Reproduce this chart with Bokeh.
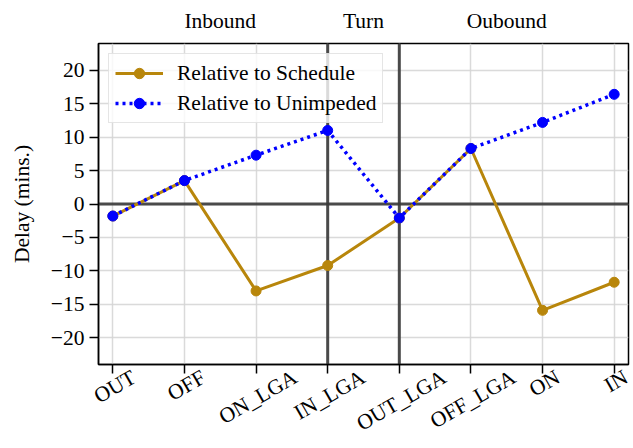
import math
from bokeh.plotting import figure
from bokeh.models import (Range1d, FixedTicker, LinearAxis, Span, Legend, Grid)
from bokeh.embed import file_html
from bokeh.resources import INLINE

categories = ["OUT", "OFF", "ON_LGA", "IN_LGA", "OUT_LGA", "OFF_LGA", "ON", "IN"]
rel_schedule = [-1.8, 3.5, -13.0, -9.2, -2.1, 8.3, -15.9, -11.7]
rel_unimpeded = [-1.8, 3.5, 7.3, 11.0, -2.1, 8.3, 12.2, 16.4]
phase_labels = ["Inbound", "Turn", "Oubound"]
phase_positions = [1.5, 3.5, 5.5]
phase_dividers = ["IN_LGA", "OUT_LGA"]
y_ticks = [-20, -15, -10, -5, 0, 5, 10, 15, 20]
y_label = "Delay (mins.)"
series_names = ["Relative to Schedule", "Relative to Unimpeded"]

FONT = "Liberation Serif"
FSPX = 21.5
FS = f"{FSPX}px"
ANGLE = math.pi / 6
W, H = 633, 448
B_LEFT, B_RIGHT, B_TOP, B_BOTTOM = 98, 5, 43, 80

x = list(range(len(categories)))
y_lo, y_hi = -24, 24
x_lo, x_hi = -0.2, len(categories) - 1 + 0.2

p = figure(width=W, height=H, output_backend="svg", toolbar_location=None,
           x_range=Range1d(x_lo, x_hi), y_range=Range1d(y_lo, y_hi),
           x_axis_type=None, y_axis_type=None,
           min_border_left=B_LEFT, min_border_top=B_TOP,
           min_border_bottom=B_BOTTOM, min_border_right=B_RIGHT)

p.outline_line_color = "black"
p.outline_line_width = 1.5


def style_axis(ax):
    ax.major_label_text_font = FONT
    ax.major_label_text_font_size = FS
    ax.major_label_text_color = "black"
    ax.axis_label_text_font = FONT
    ax.axis_label_text_font_size = FS
    ax.axis_label_text_font_style = "normal"
    ax.axis_label_text_color = "black"
    ax.axis_line_color = "black"
    ax.axis_line_width = 1.5
    ax.major_tick_line_color = "black"
    ax.major_tick_line_width = 1.5
    ax.major_tick_out = 9
    ax.major_tick_in = 0
    ax.minor_tick_line_color = None


# bottom axis: ticks only
xa = LinearAxis(ticker=FixedTicker(ticks=x), major_label_overrides={i: "" for i in x})
style_axis(xa)
xa.major_label_text_font_size = "0px"
xa.major_label_standoff = 0
p.add_layout(xa, "below")

# bottom axis 2: rotated category names, centred under each tick (matplotlib ha='center')
W_EM = {"O": .722, "U": .722, "T": .611, "F": .556, "N": .722, "_": .5,
        "L": .611, "G": .722, "A": .722, "I": .333}
px_per_unit = (W - B_LEFT - B_RIGHT) / (x_hi - x_lo)
label_pos = []
for xi, c in zip(x, categories):
    wpx = sum(W_EM.get(ch, .6) for ch in c) * FSPX
    label_pos.append(xi + (wpx * math.cos(ANGLE) / 2 + 2) / px_per_unit)
xl = LinearAxis(ticker=FixedTicker(ticks=label_pos),
                major_label_overrides={pos: c for pos, c in zip(label_pos, categories)})
style_axis(xl)
xl.axis_line_color = None
xl.major_tick_line_color = None
xl.major_tick_out = 0
xl.major_label_standoff = 2
xl.major_label_orientation = ANGLE
xl.major_label_text_line_height = 1.0
p.add_layout(xl, "below")

ya = LinearAxis(ticker=FixedTicker(ticks=y_ticks),
                major_label_overrides={t: (("\u2212" + str(-t)) if t < 0 else str(t)) for t in y_ticks},
                axis_label=y_label, axis_label_standoff=14)
style_axis(ya)
p.add_layout(ya, "left")

top = LinearAxis(ticker=FixedTicker(ticks=phase_positions),
                 major_label_overrides={pos: lab for pos, lab in zip(phase_positions, phase_labels)})
style_axis(top)
top.axis_line_color = None
top.major_tick_line_color = None
top.major_tick_out = 0
top.major_label_standoff = 11
p.add_layout(top, "above")

# grid
for dim, ticks in ((0, x), (1, y_ticks)):
    p.add_layout(Grid(dimension=dim, ticker=FixedTicker(ticks=ticks),
                      grid_line_color="#d4d4d4", grid_line_width=1.5, grid_line_alpha=0.85))

# reference lines
p.add_layout(Span(location=0, dimension="width", line_color="#383838", line_width=3,
                  line_alpha=0.9, level="underlay"))
for d in phase_dividers:
    p.add_layout(Span(location=categories.index(d), dimension="height", line_color="#383838",
                      line_width=3, line_alpha=0.9, level="underlay"))

gold = "#B8860B"
blue = "#0000FF"
r1 = p.line(x, rel_schedule, line_color=gold, line_width=3)
r2 = p.scatter(x, rel_schedule, marker="circle", size=10, fill_color=gold, line_color=gold)
r3 = p.line(x, rel_unimpeded, line_color=blue, line_width=3.5, line_dash="3 4")
r4 = p.scatter(x, rel_unimpeded, marker="circle", size=10, fill_color=blue, line_color=blue)

legend = Legend(items=[(series_names[0], [r1, r2]), (series_names[1], [r3, r4])],
                location="top_left")
legend.label_text_font = FONT
legend.label_text_font_size = FS
legend.label_text_color = "black"
legend.glyph_width = 48
legend.glyph_height = 26
legend.label_height = 26
legend.label_standoff = 14
legend.spacing = 4
legend.padding = 6
legend.margin = 10
legend.border_line_color = "#cccccc"
legend.border_line_width = 1.5
legend.background_fill_alpha = 0.8
p.add_layout(legend, "center")

open("out.html", "w").write(file_html(p, INLINE))
